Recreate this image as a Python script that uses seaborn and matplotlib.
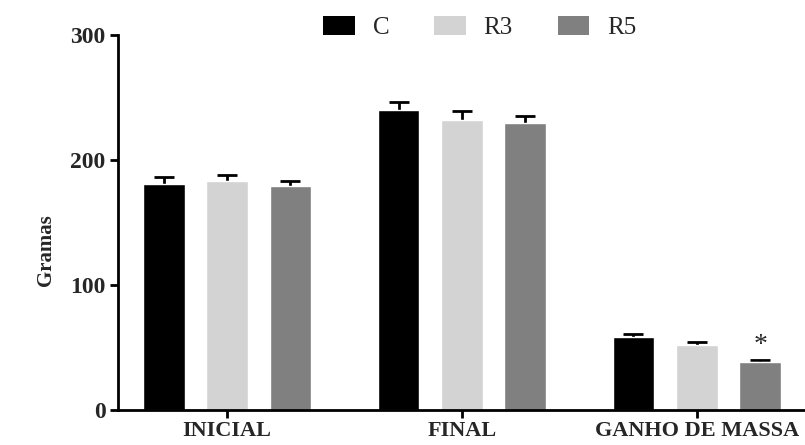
import matplotlib
matplotlib.use("Agg")
import matplotlib.pyplot as plt
import seaborn as sns
import pandas as pd
import numpy as np
from matplotlib.patches import Patch

categories = ["INICIAL", "FINAL", "GANHO DE MASSA"]
groups = ["C", "R3", "R5"]
mean_C = [181, 240, 58]
mean_R3 = [183, 232, 52]
mean_R5 = [179, 230, 38]
sem_C = [5.5, 6.5, 3.0]
sem_R3 = [5.0, 7.0, 2.5]
sem_R5 = [4.5, 5.0, 1.8]
colors = ["#000000", "#d3d3d3", "#808080"]

means = {"C": mean_C, "R3": mean_R3, "R5": mean_R5}
sems = {"C": sem_C, "R3": sem_R3, "R5": sem_R5}

rows = []
for g in groups:
    for c, m in zip(categories, means[g]):
        rows.append({"cat": c, "grupo": g, "valor": m})
df = pd.DataFrame(rows)

sns.set_style("white")
plt.rcParams['font.family'] = ['Liberation Serif', 'DejaVu Serif']

fig = plt.figure(figsize=(8.05, 4.45), dpi=100)
ax = fig.add_axes([0.1466, 0.0787, 0.8534, 0.8426])

sns.barplot(data=df, x="cat", y="valor", hue="grupo", order=categories,
            hue_order=groups, palette=colors, errorbar=None, width=0.81,
            gap=0.34, saturation=1, ax=ax, legend=False, zorder=2)

for cont, g in zip(ax.containers, groups):
    xs = [p.get_x() + p.get_width() / 2 for p in cont.patches]
    hs = [p.get_height() for p in cont.patches]
    err = sems[g]
    ax.errorbar(xs, hs, yerr=err, fmt="none",
                ecolor="black", elinewidth=2.0, capsize=7.5, capthick=2.0,
                zorder=1)

# significance asterisk above R5 in GANHO DE MASSA
p = ax.containers[2].patches[2]
ax.text(p.get_x() + p.get_width() / 2, p.get_height() + sem_R5[2] + 2, "*",
        ha="center", va="bottom", fontsize=20, fontweight="normal")

ax.set_ylim(0, 300)
ax.set_xlim(-0.464, 2.46)
ax.set_yticks([0, 100, 200, 300])
ax.set_xlabel("")
ax.set_ylabel("Gramas", fontsize=15, fontweight="bold")
ax.yaxis.set_label_coords(-0.09, 0.425)

for s in ["top", "right"]:
    ax.spines[s].set_visible(False)
for s in ["left", "bottom"]:
    ax.spines[s].set_linewidth(2.0)
    ax.spines[s].set_color("black")

ax.tick_params(axis="both", which="both", direction="out", length=6,
               width=2.0, color="black", labelsize=17, bottom=True, left=True,
               pad=3)
ax.tick_params(axis="x", labelsize=16, pad=2)
for lab in ax.get_xticklabels() + ax.get_yticklabels():
    lab.set_fontweight("bold")

handles = [Patch(facecolor=c, edgecolor="none") for c in colors]
fig.legend(handles, groups, loc="center", bbox_to_anchor=(0.596, 0.938), ncol=3,
           frameon=False, fontsize=18, handlelength=1.27, handleheight=0.76,
           columnspacing=1.8, handletextpad=0.7)

fig.savefig("out.png", dpi=100)
